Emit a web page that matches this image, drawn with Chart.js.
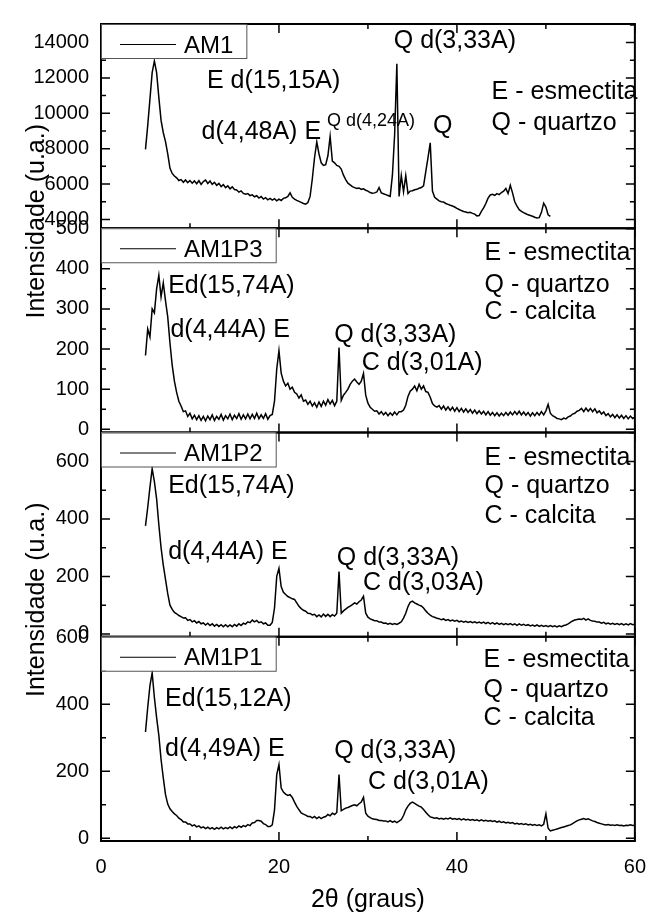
<!DOCTYPE html>
<html>
<head>
<meta charset="utf-8">
<title>DRX - AM1</title>
<script src="https://cdn.jsdelivr.net/npm/chart.js@4.4.1/dist/chart.umd.min.js"></script>
<style>
  html, body { margin: 0; padding: 0; background: #fff; }
  canvas { display: block; }
</style>
</head>
<body>
<canvas id="xrdChart" width="660" height="915"></canvas>
<script>
// 2-theta (degrees), one row per degree
const angles = [
  5, 5.25, 5.5, 5.75,   6, 6.25, 6.5, 6.75,   7, 7.25, 7.5, 7.75,   8, 8.25, 8.5, 8.75,
  9, 9.25, 9.5, 9.75,   10, 10.25, 10.5, 10.75,   11, 11.25, 11.5, 11.75,   12, 12.25, 12.5, 12.75,
  13, 13.25, 13.5, 13.75,   14, 14.25, 14.5, 14.75,   15, 15.25, 15.5, 15.75,   16, 16.25, 16.5, 16.75,
  17, 17.25, 17.5, 17.75,   18, 18.25, 18.5, 18.75,   19, 19.25, 19.5, 19.75,   20, 20.25, 20.5, 20.75,
  21, 21.25, 21.5, 21.75,   22, 22.25, 22.5, 22.75,   23, 23.25, 23.5, 23.75,   24, 24.25, 24.5, 24.75,
  25, 25.25, 25.5, 25.75,   26, 26.25, 26.5, 26.75,   27, 27.25, 27.5, 27.75,   28, 28.25, 28.5, 28.75,
  29, 29.25, 29.5, 29.75,   30, 30.25, 30.5, 30.75,   31, 31.25, 31.5, 31.75,   32, 32.25, 32.5, 32.75,
  33, 33.25, 33.5, 33.75,   34, 34.25, 34.5, 34.75,   35, 35.25, 35.5, 35.75,   36, 36.25, 36.5, 36.75,
  37, 37.25, 37.5, 37.75,   38, 38.25, 38.5, 38.75,   39, 39.25, 39.5, 39.75,   40, 40.25, 40.5, 40.75,
  41, 41.25, 41.5, 41.75,   42, 42.25, 42.5, 42.75,   43, 43.25, 43.5, 43.75,   44, 44.25, 44.5, 44.75,
  45, 45.25, 45.5, 45.75,   46, 46.25, 46.5, 46.75,   47, 47.25, 47.5, 47.75,   48, 48.25, 48.5, 48.75,
  49, 49.25, 49.5, 49.75,   50, 50.25, 50.5, 50.75,   51, 51.25, 51.5, 51.75,   52, 52.25, 52.5, 52.75,
  53, 53.25, 53.5, 53.75,   54, 54.25, 54.5, 54.75,   55, 55.25, 55.5, 55.75,   56, 56.25, 56.5, 56.75,
  57, 57.25, 57.5, 57.75,   58, 58.25, 58.5, 58.75,   59, 59.25, 59.5, 59.75,   60
];

// intensities (u.a.), AM1 stops at 50.5 deg
const am1 = [
  7960, 9300, 10800, 12300,   12960, 12300, 10900, 9600,   8900, 8400, 7700, 6900,   6600, 6450, 6350, 6200,
  6250, 6100, 6230, 6080,   6200, 6050, 6180, 6020,   6190, 5980, 6140, 6220,   6030, 6170, 5980, 6100,
  5930, 6040, 5860, 5970,   5800, 5900, 5730, 5840,   5690, 5660, 5540, 5610,   5470, 5430, 5460, 5350,
  5390, 5280, 5340, 5210,   5290, 5150, 5230, 5110,   5190, 5090, 5170, 5050,   5150, 5070, 5190, 5220,
  5300, 5500, 5250, 5150,   5080, 5020, 4960, 4900,   4860, 4950, 5300, 6300,   7500, 8380, 7700, 7200,
  7050, 7100, 7600, 8700,   7300, 7200, 7050, 7000,   6850, 6500, 6250, 6050,   5950, 5850, 5800, 5750,
  5780, 5700, 5730, 5650,   5600, 5520, 5480, 5500,   5550, 5800, 5500, 5450,   5400, 5350, 5300, 6500,
  8800, 12800, 5300, 6480,   5560, 6480, 5460, 5600,   5620, 5680, 5700, 5760,   5800, 5900, 6700, 7500,
  8330, 5600, 5250, 5150,   5050, 5000, 4980, 4900,   4850, 4800, 4760, 4700,   4620, 4560, 4500, 4450,
  4420, 4380, 4400, 4340,   4300, 4200, 4220, 4450,   4650, 4900, 5200, 5380,   5420, 5360, 5460, 5400,
  5520, 5600, 5750, 5460,   5930, 5500, 5000, 4750,   4550, 4450, 4380, 4320,   4260, 4220, 4180, 4120,
  4080, 4100, 4400, 4920,   4700, 4260, 4170
];

const am1p3 = [
  184, 250, 230, 300,   290, 350, 384, 330,   365, 320, 280, 215,   160, 120, 92, 70,
  58, 44, 46, 32,   40, 26, 35, 24,   34, 22, 32, 21,   33, 24, 36, 22,
  32, 25, 37, 23,   34, 26, 38, 24,   35, 27, 39, 25,   36, 26, 38, 26,
  37, 27, 40, 26,   36, 27, 39, 25,   34, 37, 70, 150,   196, 140, 120, 108,
  115, 100, 105, 92,   88, 78, 86, 70,   73, 62, 70, 58,   66, 55, 68, 57,
  70, 60, 74, 63,   72, 59, 70, 204,   72, 85, 92, 100,   112, 120, 125, 118,
  112, 120, 139, 85,   65, 55, 50, 45,   46, 38, 44, 36,   42, 34, 41, 35,
  43, 36, 44, 44,   48, 60, 82, 95,   100, 108, 96, 112,   100, 108, 94, 92,
  80, 64, 58, 55,   59, 50, 58, 48,   56, 47, 55, 45,   54, 44, 52, 43,
  51, 42, 49, 40,   48, 39, 46, 38,   45, 36, 44, 35,   42, 34, 41, 33,
  40, 34, 42, 35,   43, 36, 44, 37,   45, 36, 43, 35,   42, 33, 41, 34,
  42, 35, 44, 36,   46, 62, 40, 34,   31, 27, 26, 24,   28, 26, 31, 33,
  38, 40, 45, 47,   52, 44, 53, 45,   52, 44, 51, 41,   46, 38, 43, 34,
  39, 31, 37, 29,   36, 28, 35, 27,   34, 26, 33, 27,   30
];

const am1p2 = [
  376, 440, 510, 575,   530, 470, 380, 300,   239, 190, 140, 100,   85, 75, 70, 64,
  60, 55, 56, 47,   50, 42, 46, 38,   43, 35, 38, 31,   37, 29, 35, 27,
  33, 26, 32, 25,   32, 25, 31, 25,   33, 27, 35, 29,   37, 34, 42, 39,
  48, 42, 47, 39,   42, 35, 38, 30,   30, 40, 90, 200,   228, 165, 145, 137,
  130, 126, 122, 120,   108, 96, 88, 82,   79, 72, 71, 66,   68, 60, 66, 59,
  69, 61, 68, 60,   67, 62, 71, 217,   72, 80, 86, 92,   97, 102, 108, 104,
  112, 118, 131, 72,   58, 52, 49, 46,   46, 41, 41, 37,   38, 34, 37, 33,
  36, 33, 37, 42,   55, 72, 95, 110,   114, 108, 104, 100,   97, 90, 80, 72,
  65, 60, 58, 54,   53, 49, 52, 47,   50, 45, 48, 44,   47, 42, 45, 41,
  44, 40, 43, 39,   42, 38, 41, 37,   41, 36, 40, 35,   39, 34, 38, 33,
  37, 32, 36, 32,   36, 31, 35, 30,   35, 30, 33, 29,   32, 28, 31, 27,
  31, 26, 30, 26,   29, 25, 29, 25,   28, 24, 28, 25,   29, 31, 35, 40,
  45, 48, 50, 52,   50, 54, 48, 52,   47, 45, 44, 41,   41, 37, 40, 35,
  38, 34, 37, 33,   36, 32, 36, 31,   35, 31, 36, 32,   34
];

const am1p1 = [
  317, 390, 455, 493,   420, 360, 307, 235,   180, 130, 102, 88,   80, 73, 68, 60,
  56, 49, 49, 43,   43, 37, 40, 34,   37, 31, 34, 29,   33, 28, 32, 27,
  32, 28, 33, 28,   32, 29, 34, 29,   35, 31, 37, 33,   38, 35, 41, 38,
  46, 47, 53, 53,   51, 44, 41, 35,   35, 40, 85, 190,   220, 150, 138, 132,
  128, 130, 122, 108,   95, 85, 76, 72,   69, 65, 65, 61,   65, 59, 64, 59,
  63, 65, 71, 67,   75, 71, 77, 190,   82, 86, 90, 92,   95, 98, 100, 97,
  103, 108, 122, 75,   66, 62, 58, 57,   56, 53, 53, 52,   52, 49, 53, 48,
  51, 47, 51, 56,   68, 85, 96, 104,   108, 104, 100, 96,   93, 86, 78, 70,
  64, 62, 60, 61,   58, 60, 57, 60,   58, 61, 57, 59,   56, 59, 55, 58,
  55, 57, 54, 56,   53, 55, 52, 55,   52, 54, 51, 53,   50, 52, 48, 51,
  47, 49, 46, 48,   45, 47, 43, 45,   42, 44, 41, 43,   40, 42, 39, 41,
  38, 40, 37, 42,   73, 30, 22, 24,   26, 28, 30, 32,   34, 36, 38, 40,
  44, 48, 52, 55,   57, 59, 56, 58,   55, 52, 50, 47,   45, 43, 41, 40,
  41, 39, 40, 38,   40, 38, 39, 37,   39, 38, 40, 38,   39
];

const sampleLabels = ['AM1', 'AM1P3', 'AM1P2', 'AM1P1'];
const sampleSeries = [am1, am1p3, am1p2, am1p1];

// one y axis per panel, top to bottom
const panelIds = ['y1', 'y2', 'y3', 'y4'];
const yMin = [3500, -8, -10, -8];
const yMax = [15050, 501, 701, 601];
const yTicks = [
  [4000, 5000, 6000, 7000, 8000, 9000, 10000, 11000, 12000, 13000, 14000, 15000],
  [0, 50, 100, 150, 200, 250, 300, 350, 400, 450, 500],
  [0, 100, 200, 300, 400, 500, 600, 700],
  [0, 100, 200, 300, 400, 500, 600]
];
const yLabelStep = [2000, 100, 200, 200];
const xTicks = [0, 10, 20, 30, 40, 50, 60];
const xLabelStep = 20;

// peak labels: panel, 2theta, intensity (baseline), text, font size
const peakNotes = [
  [0, 11.9, 11450, 'E d(15,15A)', 25],
  [0, 11.3, 8550, 'd(4,48A) E', 25],
  [0, 25.4, 9280, 'Q d(4,24A)', 18],
  [0, 37.3, 8890, 'Q', 25],
  [0, 32.9, 13700, 'Q d(3,33A)', 25],
  [0, 43.9, 10830, 'E - esmectita', 25],
  [0, 43.9, 9070, 'Q - quartzo', 25],
  [1, 7.55, 339, 'Ed(15,74A)', 25],
  [1, 7.8, 229, 'd(4,44A) E', 25],
  [1, 26.2, 218, 'Q d(3,33A)', 25],
  [1, 29.3, 147, 'C d(3,01A)', 25],
  [1, 43.1, 421, 'E - esmectita', 25],
  [1, 43.1, 343, 'Q - quartzo', 25],
  [1, 43.1, 274, 'C - calcita', 25],
  [2, 7.55, 490, 'Ed(15,74A)', 25],
  [2, 7.55, 262, 'd(4,44A) E', 25],
  [2, 26.5, 239, 'Q d(3,33A)', 25],
  [2, 29.45, 154, 'C d(3,03A)', 25],
  [2, 43.1, 587, 'E - esmectita', 25],
  [2, 43.1, 490, 'Q - quartzo', 25],
  [2, 43.1, 387, 'C - calcita', 25],
  [3, 7.2, 395, 'Ed(15,12A)', 25],
  [3, 7.2, 244, 'd(4,49A) E', 25],
  [3, 26.2, 239, 'Q d(3,33A)', 25],
  [3, 30.0, 146, 'C d(3,01A)', 25],
  [3, 43.0, 512, 'E - esmectita', 25],
  [3, 43.0, 420, 'Q - quartzo', 25],
  [3, 43.0, 337, 'C - calcita', 25]
];

const FONT = "'Liberation Sans', Arial, sans-serif";

// frames with inward ticks, legend boxes, labels
const panelDecor = {
  id: 'panelDecor',
  afterDraw(chart) {
    const ctx = chart.ctx;
    const xs = chart.scales.x;
    const left = chart.chartArea.left;
    const right = chart.chartArea.right;
    ctx.save();
    panelIds.forEach((id, p) => {
      const ys = chart.scales[id];
      const top = ys.top, bottom = ys.bottom;

      ctx.strokeStyle = '#000';
      ctx.lineWidth = 1.5;
      ctx.beginPath();
      ys.ticks.forEach(t => {
        const py = ys.getPixelForValue(t.value);
        const len = t.label !== '' ? 9 : 5;
        ctx.moveTo(left, py); ctx.lineTo(left + len, py);
        ctx.moveTo(right, py); ctx.lineTo(right - len, py);
      });
      xs.ticks.forEach(t => {
        const px = xs.getPixelForValue(t.value);
        const len = t.label !== '' ? 9 : 5;
        ctx.moveTo(px, bottom); ctx.lineTo(px, bottom - len);
        ctx.moveTo(px, top); ctx.lineTo(px, top + len);
      });
      ctx.stroke();
      ctx.lineWidth = 2;
      ctx.strokeRect(left, top, right - left, bottom - top);

      // legend box
      ctx.font = '24px ' + FONT;
      const label = chart.data.datasets[p].label;
      const boxW = 83 + ctx.measureText(label).width + 13;
      ctx.fillStyle = '#fff';
      ctx.fillRect(left, top, boxW, 34);
      ctx.strokeStyle = '#555';
      ctx.lineWidth = 1;
      ctx.strokeRect(left + 0.5, top + 0.5, boxW, 34);
      ctx.strokeStyle = '#000';
      ctx.beginPath();
      ctx.moveTo(left + 19, top + 20.5);
      ctx.lineTo(left + 75, top + 20.5);
      ctx.stroke();
      ctx.fillStyle = '#000';
      ctx.textAlign = 'left';
      ctx.textBaseline = 'alphabetic';
      ctx.fillText(label, left + 83, top + 28.5);
    });

    // peak annotations
    ctx.fillStyle = '#000';
    ctx.textAlign = 'left';
    ctx.textBaseline = 'alphabetic';
    peakNotes.forEach(([p, deg, val, text, size]) => {
      ctx.font = size + 'px ' + FONT;
      ctx.fillText(text, xs.getPixelForValue(deg), chart.scales[panelIds[p]].getPixelForValue(val));
    });

    // y title, repeated for upper and lower pairs of panels
    ctx.font = '25px ' + FONT;
    ctx.textAlign = 'center';
    [chart.scales.y2.top - 7, chart.scales.y4.top - 37].forEach(cy => {
      ctx.save();
      ctx.translate(44, cy);
      ctx.rotate(-Math.PI / 2);
      ctx.fillText('Intensidade (u.a.)', 0, 0);
      ctx.restore();
    });
    ctx.restore();
  }
};

const scales = {
  x: {
    type: 'linear',
    min: 0,
    max: 60,
    position: 'bottom',
    grid: { display: false, drawTicks: false },
    border: { display: false },
    afterBuildTicks: s => { s.ticks = xTicks.map(v => ({ value: v })); },
    ticks: {
      autoSkip: false,
      maxRotation: 0,
      padding: 14,
      color: '#000',
      font: { family: FONT, size: 20 },
      callback: v => (v % xLabelStep === 0 ? String(v) : '')
    },
    title: {
      display: true,
      text: '2θ (graus)',
      color: '#000',
      font: { family: FONT, size: 25 },
      padding: { top: 0, bottom: 0 }
    },
    afterFit: s => { s.height = 74; }
  }
};
// stacked left axes are laid out last-defined on top, so add them bottom-up
[3, 2, 1, 0].forEach(p => {
  scales[panelIds[p]] = {
    type: 'linear',
    position: 'left',
    stack: 'xrd',
    stackWeight: 1,
    min: yMin[p],
    max: yMax[p],
    grid: { display: false, drawTicks: false },
    border: { display: false },
    afterBuildTicks: s => { s.ticks = yTicks[p].map(v => ({ value: v })); },
    ticks: {
      autoSkip: false,
      padding: 12,
      color: '#000',
      font: { family: FONT, size: 20 },
      callback: v => (v % yLabelStep[p] === 0 ? String(v) : '')
    },
    afterFit: s => { s.width = 101; }
  };
});

const datasets = sampleSeries.map((vals, p) => ({
  label: sampleLabels[p],
  data: vals.map((v, i) => ({ x: angles[i], y: v })),
  yAxisID: panelIds[p],
  xAxisID: 'x',
  borderColor: '#000',
  borderWidth: 1.5,
  pointRadius: 0,
  tension: 0,
  fill: false
}));

new Chart(document.getElementById('xrdChart').getContext('2d'), {
  type: 'line',
  data: { datasets },
  options: {
    responsive: false,
    animation: false,
    devicePixelRatio: 1,
    layout: { padding: { top: 9, right: 11, left: 0, bottom: 0 } },
    plugins: { legend: { display: false }, tooltip: { enabled: false } },
    scales
  },
  plugins: [panelDecor]
});
</script>
</body>
</html>
